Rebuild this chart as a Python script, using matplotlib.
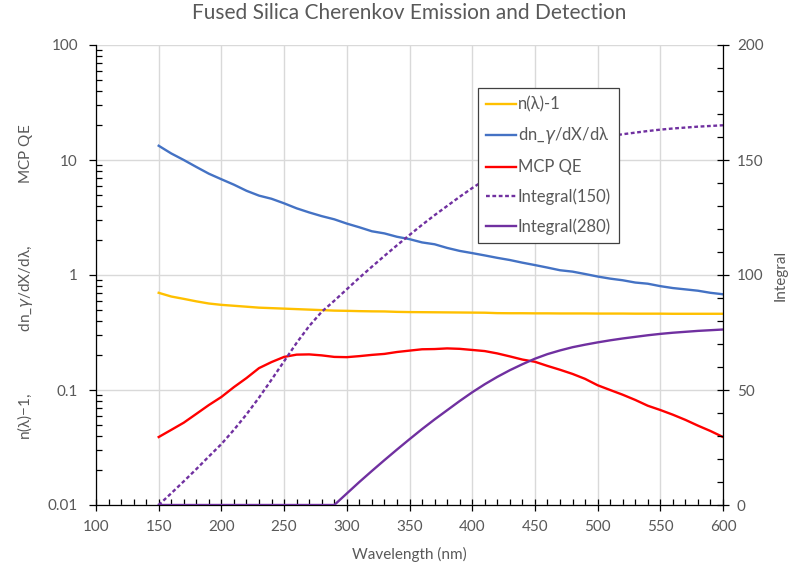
import matplotlib
matplotlib.use("Agg")
import matplotlib.pyplot as plt
from matplotlib.ticker import MultipleLocator, LogLocator, NullFormatter, FuncFormatter

plt.rcParams['font.family'] = ['Lato', 'DejaVu Sans']

wavelength = list(range(150, 601, 10))

n_minus_1 = [0.70, 0.65, 0.62, 0.59, 0.565, 0.55, 0.54, 0.53, 0.52, 0.515,
             0.51, 0.505, 0.50, 0.495, 0.49, 0.488, 0.485, 0.483, 0.482, 0.478,
             0.476, 0.475, 0.474, 0.473, 0.472, 0.471, 0.470, 0.466, 0.465, 0.465,
             0.464, 0.464, 0.463, 0.463, 0.463, 0.462, 0.462, 0.462, 0.461, 0.461,
             0.461, 0.460, 0.460, 0.460, 0.460, 0.460]

dn_dx_dl = [13.3, 11.4, 10.0, 8.7, 7.6, 6.8, 6.1, 5.4, 4.9, 4.6,
            4.2, 3.8, 3.5, 3.25, 3.05, 2.8, 2.6, 2.4, 2.3, 2.15,
            2.05, 1.92, 1.85, 1.72, 1.62, 1.55, 1.48, 1.41, 1.35, 1.28,
            1.22, 1.16, 1.10, 1.07, 1.02, 0.97, 0.93, 0.90, 0.86, 0.84,
            0.80, 0.77, 0.75, 0.73, 0.70, 0.68]

mcp_qe = [0.039, 0.045, 0.052, 0.062, 0.074, 0.087, 0.106, 0.127, 0.155, 0.175,
          0.194, 0.203, 0.204, 0.200, 0.194, 0.193, 0.197, 0.202, 0.206, 0.214,
          0.220, 0.226, 0.227, 0.230, 0.228, 0.223, 0.218, 0.208, 0.196, 0.184,
          0.176, 0.162, 0.150, 0.138, 0.125, 0.110, 0.100, 0.091, 0.082, 0.073,
          0.067, 0.061, 0.055, 0.049, 0.044, 0.039]

integral_150 = [0, 5.1, 10.3, 15.6, 21.1, 26.5, 32.7, 39.4, 46.7, 54.5,
                62.5, 70.5, 77.8, 84.0, 88.8, 93.8, 98.8, 103.6, 108.3, 112.9,
                117.4, 121.8, 126.0, 130.0, 134.0, 137.8, 141.3, 144.5, 147.4, 150.0,
                152.4, 154.4, 156.0, 157.4, 158.5, 159.5, 160.4, 161.2, 161.9, 162.6,
                163.2, 163.7, 164.1, 164.5, 164.8, 165.1]

integral_280 = [0, 0, 0, 0, 0, 0, 0, 0, 0, 0,
                0, 0, 0, 0, 0, 5.0, 10.0, 14.8, 19.5, 24.1,
                28.6, 33.0, 37.2, 41.2, 45.2, 49.0, 52.5, 55.7, 58.6, 61.2,
                63.6, 65.6, 67.2, 68.6, 69.7, 70.7, 71.6, 72.4, 73.1, 73.8,
                74.4, 74.9, 75.3, 75.7, 76.0, 76.3]

TXT = '#595959'
W, H = 789, 569
fig = plt.figure(figsize=(W/100, H/100), dpi=100)
ax = fig.add_axes([96/W, 1-505/H, (723-96)/W, (505-45)/H])
ax2 = ax.twinx()

lw = 1.7
l1, = ax.plot(wavelength, n_minus_1, color='#FFC000', lw=lw, label='n(λ)-1')
l2, = ax.plot(wavelength, dn_dx_dl, color='#4472C4', lw=lw, label='dn_$\\gamma$/dX/dλ')
l3, = ax.plot(wavelength, mcp_qe, color='#FF0000', lw=lw, label='MCP QE')
l4, = ax2.plot(wavelength, integral_150, color='#7030A0', lw=lw, ls=(0, (1.6, 1.1)), label='Integral(150)')
l5, = ax2.plot(wavelength, integral_280, color='#7030A0', lw=lw, label='Integral(280)')

ax.set_yscale('log')
ax.set_ylim(0.01, 100)
ax.set_xlim(100, 600)
ax2.set_ylim(0, 200)

ax.set_xticks(range(100, 601, 50))
ax.xaxis.set_minor_locator(MultipleLocator(10))
ax.yaxis.set_major_locator(LogLocator(base=10, numticks=10))
ax.yaxis.set_minor_locator(LogLocator(base=10, subs=range(2, 10), numticks=20))
ax.yaxis.set_minor_formatter(NullFormatter())
ax.yaxis.set_major_formatter(FuncFormatter(lambda v, p: ('%g' % v)))
ax2.yaxis.set_major_locator(MultipleLocator(50))
ax2.yaxis.set_minor_locator(MultipleLocator(10))

ax.grid(True, which='major', color='#d9d9d9', lw=1.0)
ax.set_axisbelow(True)

for a in (ax, ax2):
    for s in a.spines.values():
        s.set_visible(False)
ax.spines['left'].set_visible(True)
ax.spines['bottom'].set_visible(True)
ax2.spines['right'].set_visible(True)
for s in (ax.spines['left'], ax.spines['bottom'], ax2.spines['right']):
    s.set_color('black')
    s.set_linewidth(0.9)

ax.tick_params(axis='x', which='major', direction='inout', length=8, width=0.9, colors='black',
               labelcolor=TXT, labelsize=11, pad=7)
ax.tick_params(axis='x', which='minor', direction='in', length=4, width=0.9, colors='black')
ax.tick_params(axis='y', which='major', direction='out', length=5, width=0.9, colors='black',
               labelcolor=TXT, labelsize=11, pad=8)
ax.tick_params(axis='y', which='minor', direction='in', length=4, width=0.9, colors='black')
ax2.tick_params(axis='y', which='major', direction='inout', length=8, width=0.9, colors='black',
                labelcolor=TXT, labelsize=11, pad=6)
ax2.tick_params(axis='y', which='minor', direction='in', length=4, width=0.9, colors='black')

ax.set_xlabel('Wavelength (nm)', color=TXT, fontsize=11, labelpad=9)
fig.text(25/W, 1-282/H, 'n(λ)−1,                dn_$\\gamma$/dX/dλ,                MCP QE', rotation=90,
         ha='center', va='center', color=TXT, fontsize=11)
fig.text(781/W, 1-275/H, 'Integral', rotation=90, ha='center', va='center',
         color=TXT, fontsize=11)
fig.text(0.5 * (96 + 723) / W, 1-13/H, 'Fused Silica Cherenkov Emission and Detection',
         ha='center', va='center', color=TXT, fontsize=15)

leg = ax2.legend(handles=[l1, l2, l3, l4, l5], loc='upper left',
                 bbox_to_anchor=((478-96)/627, (505-88)/460), fontsize=12,
                 frameon=True, fancybox=False, framealpha=1, handlelength=1.8, handletextpad=0.1,
                 labelspacing=0.78, borderpad=0.5, borderaxespad=0)
leg.get_frame().set_edgecolor('#404040')
leg.get_frame().set_linewidth(0.9)
for t in leg.get_texts():
    t.set_color(TXT)

fig.savefig('out.png', dpi=100)
